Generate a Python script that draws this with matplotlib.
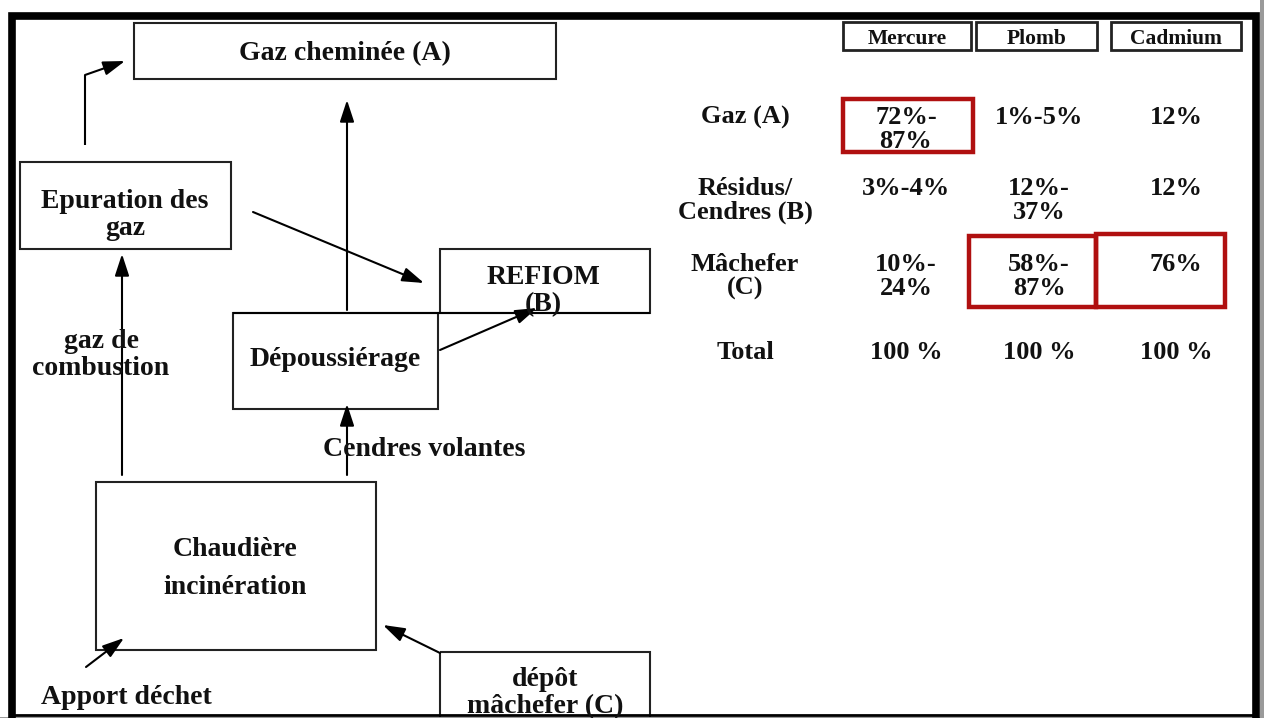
import matplotlib.pyplot as plt
from matplotlib.patches import Rectangle

plt.rcParams['font.family'] = ['Liberation Serif', 'DejaVu Serif']

W, H = 1264, 718

# process diagram: boxes (x0, y0, x1, y1) in page pixels
box_rects = [(134, 23, 556, 79),     # Gaz cheminee
             (20, 162, 231, 249),    # Epuration
             (440, 249, 650, 313),   # REFIOM
             (233, 313, 438, 409),   # Depoussierage
             (96, 482, 376, 650),    # Chaudiere
             (440, 652, 650, 730)]   # depot machefer

labels = ['Gaz cheminée (A)', 'Epuration des\ngaz', 'REFIOM\n(B)', 'Dépoussiérage',
          'Chaudière', 'incinération', 'gaz de\ncombustion', 'Cendres volantes',
          'Apport déchet', 'dépôt\nmâchefer (C)']
label_pos = [(345, 54), (125, 215), (543, 291), (335, 359),
             (235, 549), (235, 587), (101, 355), (424, 449),
             (126, 697), (545, 693)]

# arrows: (start, end)
arrows = [((85, 75), (125, 61)),
          ((347, 310), (347, 100)),
          ((253, 212), (424, 283)),
          ((122, 475), (122, 254)),
          ((440, 350), (537, 308)),
          ((347, 475), (347, 404)),
          ((86, 667), (124, 638)),
          ((440, 653), (383, 625))]
plain_lines = [((85, 145), (85, 75)), ((233, 313), (650, 313))]

# table
metals = ['Mercure', 'Plomb', 'Cadmium']
row_names = ['Gaz (A)', 'Résidus/\nCendres (B)', 'Mâchefer\n(C)', 'Total']
values = [['72%-\n87%', '1%-5%', '12%'],
          ['3%-4%', '12%-\n37%', '12%'],
          ['10%-\n24%', '58%-\n87%', '76%'],
          ['100 %', '100 %', '100 %']]
highlighted = [(0, 0), (2, 1), (2, 2)]

header_rects = [(843, 22, 971, 50), (976, 22, 1097, 50), (1111, 22, 1241, 50)]
col_x = [906, 1039, 1176]
row_y = [106, 177, 253, 341]
red_rects = [(843, 99, 973, 152), (969, 236, 1096, 307), (1096, 234, 1225, 307)]

fig = plt.figure(figsize=(W / 100, H / 100), dpi=100)
ax = fig.add_axes([0, 0, 1, 1])
ax.set_xlim(0, W)
ax.set_ylim(H, 0)
ax.axis('off')


def rect(r, **kw):
    x0, y0, x1, y1 = r
    ax.add_patch(Rectangle((x0, y0), x1 - x0, y1 - y0, fill=False, **kw))


for r in box_rects:
    rect(r, lw=1.5, ec='#222222')

for (x0, y0), (x1, y1) in plain_lines:
    ax.plot([x0, x1], [y0, y1], color='black', lw=1.5, solid_capstyle='butt')

for (x0, y0), (x1, y1) in arrows:
    ax.annotate('', xy=(x1, y1), xytext=(x0, y0),
                arrowprops=dict(arrowstyle='-|>,head_length=0.55,head_width=0.18',
                                lw=1.5, color='black',
                                mutation_scale=24, shrinkA=0, shrinkB=0))

for text, (x, y) in zip(labels, label_pos):
    ax.text(x, y, text, ha='center', va='center', fontsize=20,
            fontweight='bold', linespacing=1.12, color='#111111')

# table part
for name, r in zip(metals, header_rects):
    rect(r, lw=2, ec='#222222')
    ax.text((r[0] + r[2]) / 2, (r[1] + r[3]) / 2 + 3, name, ha='center', va='center',
            fontsize=15.5, fontweight='bold', color='#111111')

for i, name in enumerate(row_names):
    ax.text(745, row_y[i], name, ha='center', va='top', fontsize=19,
            fontweight='bold', linespacing=1.05, color='#111111')
    for j in range(3):
        ax.text(col_x[j], row_y[i], values[i][j], ha='center', va='top', fontsize=19,
                fontweight='bold', linespacing=1.05, color='#111111')

for r in red_rects:
    rect(r, lw=3.2, ec='#b01010')

# page frame
ax.plot([12, 12, 1256, 1256], [716, 16, 16, 716], color='black', lw=5.5,
        solid_joinstyle='miter')
ax.plot([12, 1256], [715, 715], color='black', lw=2)
ax.add_patch(Rectangle((1260, 0), 10, H, color='#9a9a9a', lw=0))
ax.add_patch(Rectangle((0, 716.5), W, 5, color='#9a9a9a', lw=0))

fig.savefig('out.png', dpi=100)
